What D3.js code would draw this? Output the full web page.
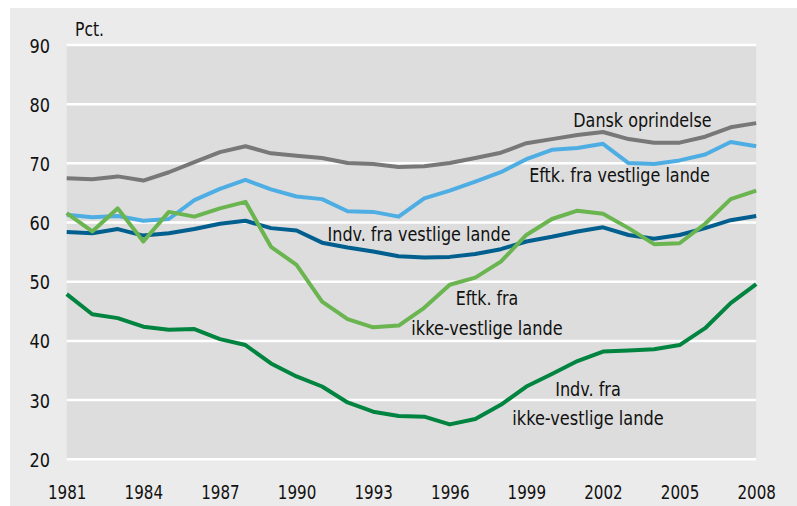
<!DOCTYPE html>
<html><head><meta charset="utf-8">
<script src="https://cdn.jsdelivr.net/npm/d3@7/dist/d3.min.js"></script>
<style>
html,body{margin:0;padding:0;background:#fff;}
svg{display:block;}
text{font-family:"Liberation Sans Narrow","DejaVu Sans Condensed","Roboto Condensed",sans-serif;fill:#111;}
</style></head>
<body>
<script>
const years = d3.range(1981, 2009);
const yTicks = [20, 30, 40, 50, 60, 70, 80, 90];
const xTickYears = [1981, 1984, 1987, 1990, 1993, 1996, 1999, 2002, 2005, 2008];

const danskOprindelse = [67.5,67.3,67.8,67.1,68.5,70.2,71.9,72.9,71.7,71.3,70.9,70.05,69.9,69.4,69.5,70.05,70.9,71.8,73.4,74.1,74.8,75.3,74.1,73.5,73.5,74.5,76.1,76.8];
const eftkVestlige = [61.3,60.9,61.1,60.3,60.6,63.8,65.7,67.2,65.6,64.4,63.96,61.9,61.8,61.0,64.1,65.4,66.9,68.5,70.7,72.3,72.6,73.3,70.05,69.9,70.5,71.5,73.6,72.9];
const indvVestlige = [58.4,58.2,58.9,57.8,58.2,58.9,59.8,60.3,59.06,58.65,56.6,55.8,55.1,54.3,54.1,54.2,54.7,55.5,56.8,57.6,58.5,59.2,57.9,57.25,57.9,59.06,60.4,61.1];
const eftkIkkeVestlige = [61.6,58.5,62.4,56.8,61.8,61.0,62.4,63.5,55.9,52.85,46.65,43.7,42.3,42.6,45.6,49.5,50.7,53.4,57.9,60.6,62.0,61.5,59.06,56.35,56.5,59.8,63.96,65.4];
const indvIkkeVestlige = [47.9,44.5,43.85,42.4,41.9,42.0,40.3,39.3,36.2,34.0,32.3,29.6,28.05,27.3,27.2,25.9,26.8,29.2,32.3,34.4,36.6,38.2,38.4,38.6,39.3,42.15,46.4,49.6];

const seriesList = [
  {name:"Indv. fra ikke-vestlige lande", values: indvIkkeVestlige, color:"#00843f"},
  {name:"Indv. fra vestlige lande", values: indvVestlige, color:"#005f8e"},
  {name:"Eftk. fra vestlige lande", values: eftkVestlige, color:"#4eaee4"},
  {name:"Dansk oprindelse", values: danskOprindelse, color:"#787878"},
  {name:"Eftk. fra ikke-vestlige lande", values: eftkIkkeVestlige, color:"#6ab550"}
];

const W = 797, H = 506;
const svg = d3.select("body").append("svg").attr("width", W).attr("height", H);

svg.append("rect").attr("x",10).attr("y",8).attr("width",W-10).attr("height",H-8).attr("fill","#ebebeb");

const x = d3.scaleLinear().domain([1981, 2008]).range([66.7, 756.2]);
const y = d3.scaleLinear().domain([20, 90]).range([459.3, 45]);

svg.append("rect").attr("x", x(1981)).attr("y", y(90)).attr("width", x(2008)-x(1981)).attr("height", y(20)-y(90)).attr("fill","#dddddd");

// gridlines
svg.append("g").selectAll("line").data(yTicks).join("line")
  .attr("x1", x(1981)).attr("x2", x(2008))
  .attr("y1", d=>y(d)).attr("y2", d=>y(d))
  .attr("stroke","#ffffff").attr("stroke-width",2.5);

// y axis
const yAxis = d3.axisLeft(y).tickValues(yTicks).tickSize(0).tickPadding(0);
const gy = svg.append("g").attr("transform","translate(50,0)").call(yAxis);
gy.select(".domain").remove();
gy.selectAll("text").attr("font-size",20).attr("fill","#111").attr("dy","0.35em")
  .attr("textLength",20.5).attr("lengthAdjust","spacingAndGlyphs")
  .style("font-family",'"Liberation Sans Narrow","DejaVu Sans Condensed",sans-serif');

// x axis
const xAxis = d3.axisBottom(x).tickValues(xTickYears).tickFormat(d3.format("d")).tickSize(0).tickPadding(0);
const gx = svg.append("g").attr("transform","translate(0,485)").call(xAxis);
gx.select(".domain").remove();
gx.selectAll("text").attr("font-size",20).attr("fill","#111").attr("dy","0.71em")
  .attr("textLength",38.5).attr("lengthAdjust","spacingAndGlyphs")
  .style("font-family",'"Liberation Sans Narrow","DejaVu Sans Condensed",sans-serif');

// lines
const line = d3.line().x((d,i)=>x(years[i])).y(d=>y(d));
svg.append("g").selectAll("path").data(seriesList).join("path")
  .attr("d", d=>line(d.values))
  .attr("fill","none").attr("stroke", d=>d.color).attr("stroke-width",4).attr("stroke-linejoin","round");

// labels
const labels = [
  {t:"Pct.", x:75, y:36, anchor:"start", w:29},
  {t:"Dansk oprindelse", x:642.5, y:127, anchor:"middle", w:138.4},
  {t:"Eftk. fra vestlige lande", x:619.5, y:181.5, anchor:"middle", w:180.7},
  {t:"Indv. fra vestlige lande", x:419, y:241, anchor:"middle", w:183},
  {t:"Eftk. fra", x:487, y:305, anchor:"middle", w:62.6},
  {t:"ikke-vestlige lande", x:487, y:335, anchor:"middle", w:151.3},
  {t:"Indv. fra", x:588, y:395.5, anchor:"middle", w:65.7},
  {t:"ikke-vestlige lande", x:588, y:425, anchor:"middle", w:151.3}
];
svg.append("g").selectAll("text").data(labels).join("text")
  .attr("x", d=>d.x).attr("y", d=>d.y).attr("text-anchor", d=>d.anchor)
  .attr("font-size",19.5).attr("textLength", d=>d.w).attr("lengthAdjust","spacingAndGlyphs")
  .text(d=>d.t);
</script>
</body></html>
